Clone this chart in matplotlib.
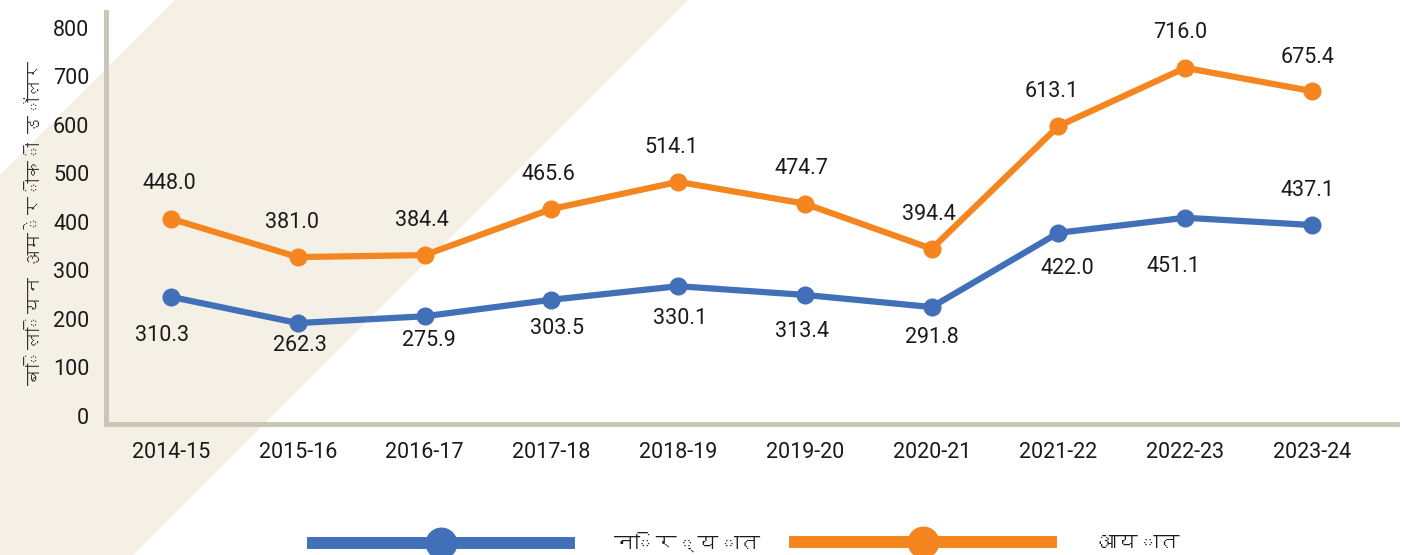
import matplotlib
matplotlib.use("Agg")
import matplotlib.pyplot as plt
from matplotlib import font_manager
from matplotlib.ft2font import FT2Font
from matplotlib.lines import Line2D
from matplotlib.patches import Polygon

# data
years = ["2014-15", "2015-16", "2016-17", "2017-18", "2018-19",
         "2019-20", "2020-21", "2021-22", "2022-23", "2023-24"]
# heights the points are drawn at
export_plot = [245, 191, 205, 239, 267, 249, 224, 377, 408, 393]
import_plot = [406, 327, 331, 426, 482, 437, 344, 597, 717, 669]
# numbers printed next to the points
export_labels = [310.3, 262.3, 275.9, 303.5, 330.1, 313.4, 291.8, 422.0, 451.1, 437.1]
import_labels = [448.0, 381.0, 384.4, 465.6, 514.1, 474.7, 394.4, 613.1, 716.0, 675.4]
yticks = [0, 100, 200, 300, 400, 500, 600, 700, 800]

ylabel = "बिलियन अमेरीकी डॉलर"
export_name = "निर्यात"
import_name = "आयात"

BLUE = "#4170b8"
ORANGE = "#f5861f"
BAND = "#f5f0e6"
SPINE = "#cbc7b7"
TEXT = "#1a1a1a"


def find_devanagari():
    # pick any installed font that actually has Devanagari glyphs
    for path in font_manager.findSystemFonts():
        try:
            cmap = FT2Font(path).get_charmap()
        except Exception:
            continue
        if 0x0928 in cmap and 0x093F in cmap:
            return font_manager.FontProperties(fname=path).get_name()
    return None


deva = find_devanagari()
num_font = ["Roboto", "DejaVu Sans"]
deva_font = ([deva] if deva else []) + ["DejaVu Sans"]

W, H = 1407, 555
fig = plt.figure(figsize=(W / 100, H / 100), dpi=100)
fig.patch.set_facecolor("white")

# diagonal beige band behind everything
band = [(0, 175), (175, 0), (688, 0), (133, 555), (0, 555)]
fig.patches.append(Polygon([(x / W, 1 - y / H) for x, y in band],
                           closed=True, transform=fig.transFigure,
                           facecolor=BAND, edgecolor="none", zorder=-5))

ax = fig.add_axes([106 / W, 1 - 424 / H, (1397 - 106) / W, (424 - 12) / H])
ax.patch.set_alpha(0)
ax.set_zorder(2)

x = list(range(len(years)))
ax.plot(x, export_plot, color=BLUE, lw=4.5, marker="o", ms=12, zorder=3,
        solid_capstyle="round")
ax.plot(x, import_plot, color=ORANGE, lw=4.5, marker="o", ms=12, zorder=3,
        solid_capstyle="round")

# label offsets in pixels (dx, dy)
imp_off = [(-2, 35), (-6, 35), (-3, 35), (-3, 35), (-7, 34),
           (-4, 35), (-3, 34), (-7, 35), (-5, 35), (-4, 34)]
exp_off = [(-9, -39), (2, -22), (4, -24), (6, -29), (2, -32),
           (-3, -37), (0, -30), (9, -36), (-12, -49), (-5, 35)]

for i in x:
    ax.annotate(f"{import_labels[i]:.1f}", (i, import_plot[i]),
                xytext=imp_off[i], textcoords="offset pixels",
                ha="center", va="center", fontsize=15.5,
                family=num_font, color=TEXT)
    ax.annotate(f"{export_labels[i]:.1f}", (i, export_plot[i]),
                xytext=exp_off[i], textcoords="offset pixels",
                ha="center", va="center", fontsize=15.5,
                family=num_font, color=TEXT)

ax.set_xlim(-0.513, 9.67)
ax.set_ylim(-17, 832)
ax.set_xticks(x)
ax.set_xticklabels(years)
ax.set_yticks(yticks)
ax.set_yticklabels([str(v) for v in yticks])
for lab in ax.get_xticklabels() + ax.get_yticklabels():
    lab.set_family(num_font)
    lab.set_fontsize(15.5)
    lab.set_color(TEXT)
ax.tick_params(axis="both", length=0)
ax.tick_params(axis="x", pad=13)
ax.tick_params(axis="y", pad=12)

for s in ["top", "right"]:
    ax.spines[s].set_visible(False)
for s in ["left", "bottom"]:
    ax.spines[s].set_color(SPINE)
    ax.spines[s].set_linewidth(3.6)

fig.text(35 / W, 1 - 223 / H, ylabel, rotation=90, ha="center", va="center",
         fontsize=13, fontweight="bold", family=deva_font, color="#333333")

# legend: two entries placed separately so each sits where the original has it
entries = [(export_name, BLUE, 313), (import_name, ORANGE, 795)]
for name, col, left in entries:
    h = Line2D([], [], color=col, lw=8.6, marker="o", ms=22)
    fig.legend([h], [name], loc="center left",
               bbox_to_anchor=(left / W, 1 - 543 / H), frameon=False,
               handlelength=12.3, handletextpad=2.15, borderpad=0,
               borderaxespad=0, prop={"family": deva_font, "size": 15})
for leg in fig.legends:
    for t in leg.get_texts():
        t.set_color(TEXT)

fig.savefig("out.png", dpi=100)
